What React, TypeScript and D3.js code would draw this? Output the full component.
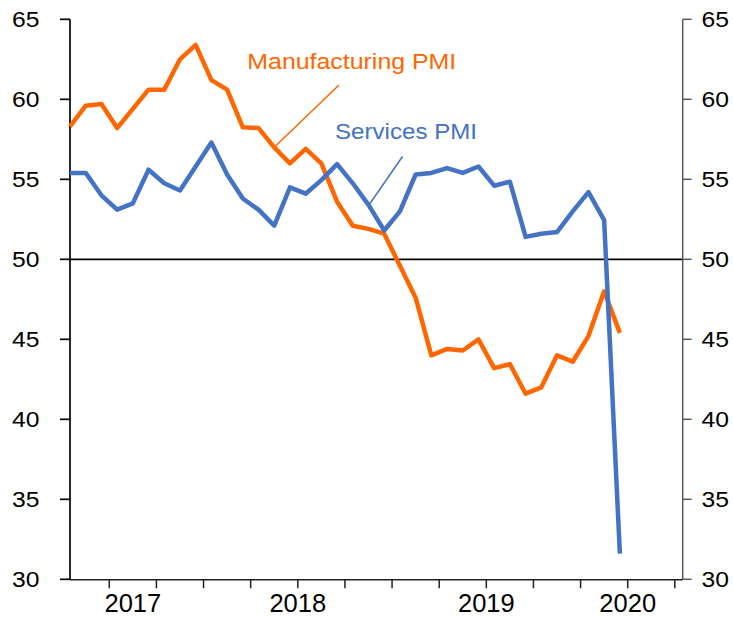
import * as React from 'react';
import * as d3 from 'd3';

// monthly readings, Apr 2017 .. Mar 2020
const manufacturing = [58.3, 59.6, 59.7, 58.2, 59.4, 60.6, 60.6, 62.5, 63.4, 61.2, 60.6, 58.25,
    58.2, 57.0, 56.0, 56.9, 56.0, 53.6, 52.1, 51.9, 51.6, 49.6, 47.6, 44.0,
    44.4, 44.3, 45.0, 43.2, 43.45, 41.6, 42.0, 44.0, 43.6, 45.2, 48.0, 45.4];
const services = [55.4, 55.4, 54.0, 53.1, 53.5, 55.6, 54.75, 54.3, 55.8, 57.3, 55.3, 53.8,
    53.1, 52.1, 54.5, 54.1, 54.95, 55.95, 54.75, 53.4, 51.8, 53.0, 55.3, 55.4,
    55.7, 55.4, 55.8, 54.6, 54.85, 51.4, 51.6, 51.7, 53.0, 54.2, 52.45, 31.6];

// category axis runs Apr 2017 .. Jun 2020
const years = ['2017', '2018', '2019', '2020'];
const monthsInYear = [9, 12, 12, 6];
const yTicks = [30, 35, 40, 45, 50, 55, 60, 65];

const FONT = '"Liberation Sans", Arial, sans-serif';
const ORANGE = '#FF6600';
const BLUE = '#4472C4';

export default function App() {
    const margin = { left: 70, right: 733 - 682.7, top: 19.3, bottom: 617 - 579.3 };
    const nCats = d3.sum(monthsInYear);
    const x = d3.scaleLinear().domain([0, nCats]).range([margin.left, 733 - margin.right]);
    const y = d3.scaleLinear().domain([30, 65]).range([617 - margin.bottom, margin.top]);

    const line = d3.line<number>()
        .x((_, i) => x(i))
        .y((v) => y(v));

    // tick marks every quarter, between categories
    const xTicks = d3.range(2.5, nCats, 3);

    // year label positions: middle of each year's block of months
    let start = 0;
    const yearPos = monthsInYear.map((n) => {
        const c = start + (n - 1) / 2;
        start += n;
        return c;
    });

    const x0 = x(0), x1 = x(nCats), yBot = y(30), yTop = y(65);

    return (
        <div style={{ position: 'absolute', left: 0, top: 0 }}>
            <svg width={733} height={617} style={{ display: 'block', background: '#fff' }} fontFamily={FONT}>
                {/* zero line at 50 */}
                <line x1={x0} x2={x1} y1={y(50)} y2={y(50)} stroke="#000" strokeWidth={1.8} />

                {/* left axis */}
                <line x1={x0} x2={x0} y1={yTop} y2={yBot} stroke="#111" strokeWidth={1.8} />
                {yTicks.map((t) => (
                    <g key={'l' + t}>
                        <line x1={x0 - 10} x2={x0} y1={y(t)} y2={y(t)} stroke="#111" strokeWidth={1.8} />
                        <text x={39.5} y={y(t)} dy="0.36em" textAnchor="end" fontSize={22}
                            textLength={27.5} lengthAdjust="spacingAndGlyphs" fill="#000">{t}</text>
                    </g>
                ))}

                {/* right axis */}
                <line x1={x1} x2={x1} y1={yTop} y2={yBot} stroke="#595959" strokeWidth={1.5} />
                {yTicks.map((t) => (
                    <g key={'r' + t}>
                        <line x1={x1} x2={x1 + 9} y1={y(t)} y2={y(t)} stroke="#595959" strokeWidth={1.5} />
                        <text x={701.5} y={y(t)} dy="0.36em" textAnchor="start" fontSize={22}
                            textLength={27.5} lengthAdjust="spacingAndGlyphs" fill="#000">{t}</text>
                    </g>
                ))}

                {/* bottom axis */}
                <line x1={x0} x2={x1} y1={yBot + 0.5} y2={yBot + 0.5} stroke="#222" strokeWidth={1.5} />
                {xTicks.map((t) => (
                    <line key={'xt' + t} x1={x(t)} x2={x(t)} y1={yBot} y2={yBot + 9} stroke="#222" strokeWidth={1.5} />
                ))}
                {years.map((yr, i) => (
                    <text key={yr} x={x(yearPos[i])} y={611.5} textAnchor="middle" fontSize={25.5} fill="#000">{yr}</text>
                ))}

                {/* series */}
                <path d={line(manufacturing) || ''} fill="none" stroke={ORANGE} strokeWidth={4.5}
                    strokeLinejoin="round" strokeLinecap="butt" />
                <path d={line(services) || ''} fill="none" stroke={BLUE} strokeWidth={4.5}
                    strokeLinejoin="round" strokeLinecap="butt" />

                {/* annotations */}
                <line x1={339} y1={85} x2={273.5} y2={148} stroke={ORANGE} strokeWidth={1.5} />
                <text x={247.3} y={69} fontSize={21.5} fill={ORANGE}
                    textLength={209} lengthAdjust="spacingAndGlyphs">Manufacturing PMI</text>
                <line x1={402.5} y1={156.5} x2={370} y2={203.5} stroke={BLUE} strokeWidth={1.5} />
                <text x={335} y={139.3} fontSize={21.5} fill={BLUE}
                    textLength={142} lengthAdjust="spacingAndGlyphs">Services PMI</text>
            </svg>
        </div>
    );
}
